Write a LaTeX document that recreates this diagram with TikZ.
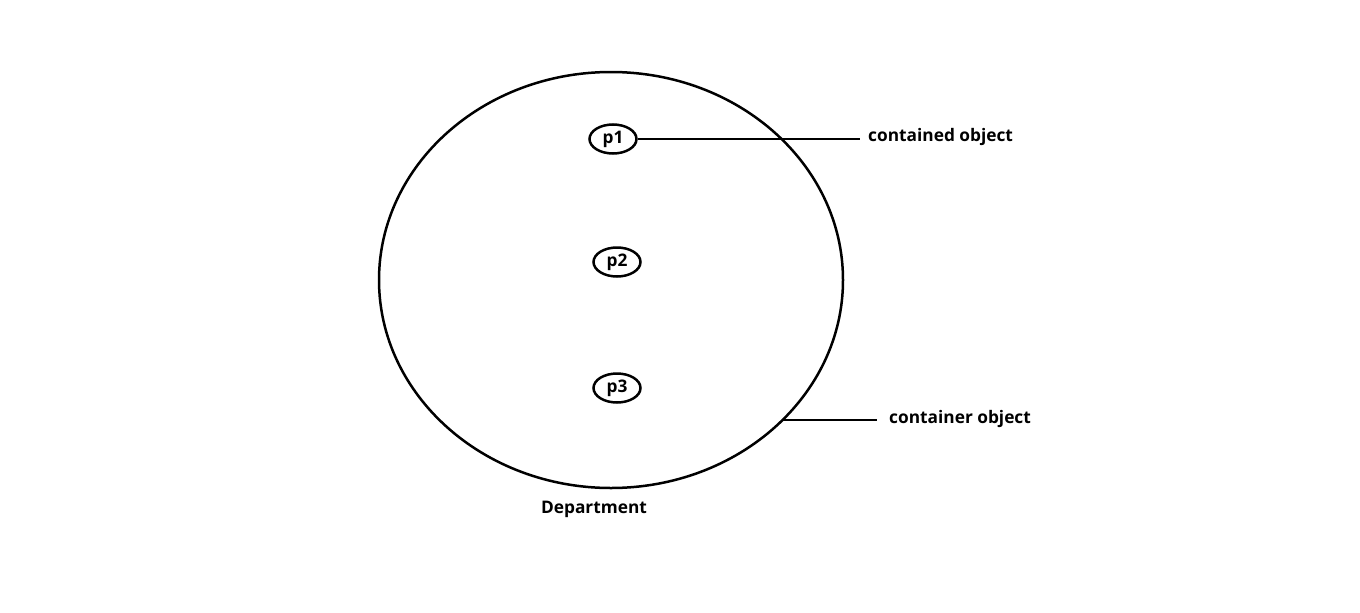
\documentclass[tikz,border=0pt]{standalone}
\usepackage{fontspec}
\setmainfont{Open Sans}
\usetikzlibrary{shapes.geometric}
\begin{document}
\begin{tikzpicture}[x=1pt,y=-1pt,
  outline/.style={draw=black,line width=2.5pt},
  member/.style={outline,ellipse,minimum width=47pt,minimum height=29pt,inner sep=0pt,
    font=\fontsize{17.3}{19}\selectfont\bfseries},
  caption/.style={font=\fontsize{17.3}{19}\selectfont\bfseries,inner sep=0pt}]
\useasboundingbox (0,0) rectangle (1360,613);
\fill[white] (0,0) rectangle (1360,613);
% the container
\draw[outline] (611,280) ellipse [x radius=232, y radius=208];
\coordinate (rim) at (783,420);
% the contained objects
\node[member] (p1) at (613,139) {p1};
\node[member] (p2) at (617,262) {p2};
\node[member] (p3) at (617,388) {p3};
% labels
\node[caption,anchor=west] (inner) at (868,137) {contained object};
\node[caption,anchor=west] (outer) at (889,419) {container object};
\node[caption] (dept) at (594,509) {Department};
% leader lines
\coordinate (innerend) at (860,139);
\coordinate (outerend) at (877,420);
\draw[outline] (p1.east) -- (innerend);
\draw[outline] (rim) -- (outerend);
\end{tikzpicture}
\end{document}
